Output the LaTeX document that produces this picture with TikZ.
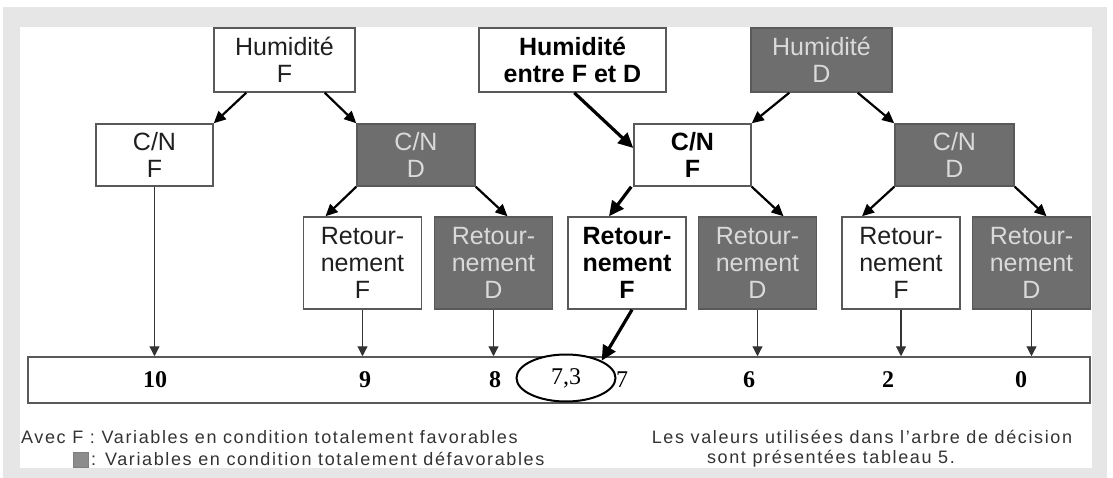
\documentclass[tikz,border=0pt]{standalone}
\usepackage{fontspec}
\setmainfont{Liberation Serif}
\setsansfont{Liberation Sans}
\newfontfamily\legfont[LetterSpace=9,Ligatures=TeX]{Liberation Sans}
\usetikzlibrary{arrows.meta,shapes.geometric}
\definecolor{fondgris}{HTML}{E6E6E6}
\definecolor{boitegris}{HTML}{6E6E6E}
\definecolor{textegris}{HTML}{DADADA}
\tikzset{
  boxF/.style={draw=black!65,line width=1.5pt,fill=white,align=center,inner sep=0pt,
    font=\sffamily\fontsize{25}{27}\selectfont,text=black!88},
  boxD/.style={boxF,fill=boitegris,text=textegris},
  boxB/.style={boxF,font=\sffamily\bfseries\fontsize{25}{27}\selectfont,text=black},
  arr/.style={line width=2.2pt,-{Triangle[length=12pt,width=11pt]}},
  arrB/.style={line width=3.2pt,-{Triangle[length=15pt,width=14pt]}},
  arrV/.style={line width=1.2pt,draw=black!80,-{Triangle[length=10pt,width=10pt]}},
  valeur/.style={font=\bfseries\fontsize{24}{26}\selectfont},
  legende/.style={font=\legfont\fontsize{18}{20}\selectfont,text=black!80,inner sep=0pt}
}
\begin{document}
\begin{tikzpicture}[x=1pt,y=-1pt]
  \fill[white] (0,0) rectangle (1113,478);
  \useasboundingbox (0,0) rectangle (1113,478);
  \fill[fondgris] (3,7) rectangle (1107,478);
  \fill[white] (20,27) rectangle (1092,468);
  % premier niveau
  \node (hf) at (284.5,60)[boxF,minimum width=141pt,minimum height=64pt]{Humidité\\F};
  \node (hefd) at (572.5,60)[boxB,minimum width=187pt,minimum height=64pt]{Humidité\\entre F et D};
  \node (hd) at (821.5,60)[boxD,minimum width=141pt,minimum height=64pt]{Humidité\\D};
  % C/N
  \node (cnf1) at (154.5,155)[boxF,minimum width=117pt,minimum height=62pt]{C/N\\F};
  \node (cnd1) at (416,155)[boxD,minimum width=118pt,minimum height=62pt]{C/N\\D};
  \node (cnf2) at (692.5,155)[boxB,minimum width=117pt,minimum height=62pt]{C/N\\F};
  \node (cnd2) at (954.5,155)[boxD,minimum width=119pt,minimum height=62pt]{C/N\\D};
  % retournement
  \foreach \n/\x/\s/\l in {r1f/362.5/boxF/F,r1d/493.5/boxD/D,r2f/627/boxB/F,r2d/757.5/boxD/D,r3f/901/boxF/F,r3d/1031.5/boxD/D}{
    \node (\n) at (\x,263)[\s,minimum width=118pt,minimum height=92pt]{Retour-\\nement\\\l};
  }
  % valeurs
  \node (barre) at (559,380)[draw=black!65,line width=1.5pt,fill=white,minimum width=1062pt,minimum height=46pt,inner sep=0pt]{};
  \foreach \v/\x in {10/155,9/365,8/495,6/749,2/888,0/1021}{
    \node (n\v) at (\x,380)[valeur]{\v};
  }
  \node (n7) at (622,380)[font=\fontsize{24}{26}\selectfont]{7};
  \node (e73) at (566,378)[draw,ellipse,line width=2pt,fill=white,inner sep=0pt,minimum width=99pt,minimum height=47pt,font=\fontsize{24}{26}\selectfont]{7,3};
  % fleches
  \draw[arr] ([xshift=33pt]hf.south west) -- (cnf1.north east);
  \draw[arr] ([xshift=-31pt]hf.south east) -- (cnd1.north west);
  \draw[arrB] ([xshift=96pt]hefd.south west) -- ([yshift=7pt]cnf2.west);
  \draw[arr] ([xshift=39pt]hd.south west) -- (cnf2.north east);
  \draw[arr] ([xshift=-35pt]hd.south east) -- (cnd2.north west);
  \draw[arr] (cnd1.south west) -- ([xshift=-37pt]r1f.north);
  \draw[arr] (cnd1.south east) -- ([xshift=14pt]r1d.north);
  \draw[arrB] ([xshift=-2pt]cnf2.south west) -- ([xshift=-18pt]r2f.north);
  \draw[arr] (cnf2.south east) -- ([xshift=26pt]r2d.north);
  \draw[arr] (cnd2.south west) -- ([xshift=-39pt]r3f.north);
  \draw[arr] (cnd2.south east) -- ([xshift=15pt]r3d.north);
  \foreach \b in {cnf1,r1f,r1d,r2d,r3f,r3d}{
    \draw[arrV] (\b.south) -- (\b.south |- barre.north);
  }
  \draw[arrB] ([xshift=5pt]r2f.south) -- (e73.north east);
  % legende
  \node (leg1) at (21,437)[legende,anchor=west]{Avec F : Variables en condition totalement favorables};
  \node (carre) at (80.5,459.5)[draw=black!50,fill=black!45,minimum size=15pt,inner sep=0pt]{};
  \node (leg2) at (91,459)[legende,anchor=west]{: Variables en condition totalement défavorables};
  \node (legr1) at (862,437)[legende]{Les valeurs utilisées dans l’arbre de décision};
  \node (legr2) at (831,459)[legende]{sont présentées tableau 5.};
\end{tikzpicture}
\end{document}
